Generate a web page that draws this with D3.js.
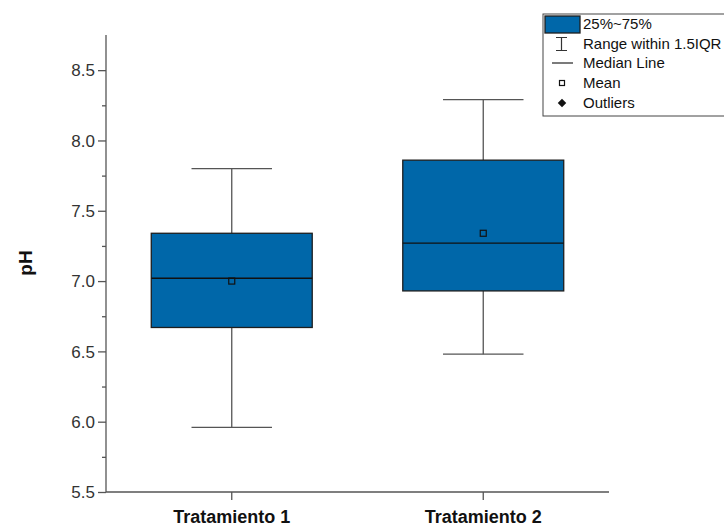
<!DOCTYPE html>
<html>
<head>
<meta charset="utf-8">
<script src="https://cdn.jsdelivr.net/npm/d3@7"></script>
<style>
  html, body { margin: 0; padding: 0; background: #fff; }
  svg { display: block; font-family: Arial, "Liberation Sans", sans-serif; }
</style>
</head>
<body>
<svg id="chart" width="724" height="527"></svg>
<script>
// pH per treatment: box-plot summary statistics
const categories = ["Tratamiento 1", "Tratamiento 2"];
const whiskerLow = [5.96, 6.48];
const q1 = [6.67, 6.93];
const median = [7.02, 7.27];
const q3 = [7.34, 7.86];
const whiskerHigh = [7.80, 8.29];
const means = [7.00, 7.34];
const yTicks = [5.5, 6.0, 6.5, 7.0, 7.5, 8.0, 8.5];
const yMinorTicks = [5.75, 6.25, 6.75, 7.25, 7.75, 8.25];
const legendLabels = ["25%~75%", "Range within 1.5IQR", "Median Line", "Mean", "Outliers"];

const boxFill = "#0067A9";
const axisColor = "#555";

const svg = d3.select("#chart");
const plotLeft = 106, plotRight = 609, plotTop = 35, plotBottom = 492;

const x = d3.scaleBand().domain(categories).range([plotLeft, plotRight]).paddingInner(0).paddingOuter(0);
const y = d3.scaleLinear().domain([5.5, 8.75]).range([plotBottom, plotTop]);

const boxW = x.bandwidth() * 0.64;
const capW = boxW / 2;

const data = categories.map((c, i) => ({
  c, lo: whiskerLow[i], q1: q1[i], med: median[i], q3: q3[i], hi: whiskerHigh[i], mean: means[i]
}));

const g = svg.append("g");
const cx = d => x(d.c) + x.bandwidth() / 2;

const box = g.selectAll("g.box").data(data).join("g").attr("class", "box");

// whisker stems
box.append("line")
  .attr("x1", cx).attr("x2", cx)
  .attr("y1", d => y(d.hi)).attr("y2", d => y(d.q3))
  .attr("stroke", axisColor).attr("stroke-width", 1.3);
box.append("line")
  .attr("x1", cx).attr("x2", cx)
  .attr("y1", d => y(d.q1)).attr("y2", d => y(d.lo))
  .attr("stroke", axisColor).attr("stroke-width", 1.3);
// whisker caps
box.append("line")
  .attr("x1", d => cx(d) - capW / 2).attr("x2", d => cx(d) + capW / 2)
  .attr("y1", d => y(d.hi)).attr("y2", d => y(d.hi))
  .attr("stroke", axisColor).attr("stroke-width", 1.3);
box.append("line")
  .attr("x1", d => cx(d) - capW / 2).attr("x2", d => cx(d) + capW / 2)
  .attr("y1", d => y(d.lo)).attr("y2", d => y(d.lo))
  .attr("stroke", axisColor).attr("stroke-width", 1.3);
// IQR box
box.append("rect")
  .attr("x", d => cx(d) - boxW / 2)
  .attr("width", boxW)
  .attr("y", d => y(d.q3))
  .attr("height", d => y(d.q1) - y(d.q3))
  .attr("fill", boxFill)
  .attr("stroke", "#1e1e1e").attr("stroke-width", 1.3);
// median
box.append("line")
  .attr("x1", d => cx(d) - boxW / 2).attr("x2", d => cx(d) + boxW / 2)
  .attr("y1", d => y(d.med)).attr("y2", d => y(d.med))
  .attr("stroke", "#111").attr("stroke-width", 1.3);
// mean marker
box.append("rect")
  .attr("x", d => cx(d) - 3).attr("y", d => y(d.mean) - 3)
  .attr("width", 6).attr("height", 6)
  .attr("fill", "none").attr("stroke", "#111").attr("stroke-width", 1.2);

// Y axis
const yAxis = d3.axisLeft(y).tickValues(yTicks).tickFormat(d3.format(".1f")).tickSize(8).tickPadding(3);
const ya = svg.append("g").attr("transform", `translate(${plotLeft},0)`).call(yAxis);
ya.select(".domain").attr("stroke", axisColor).attr("stroke-width", 1.3).attr("d", `M0,${plotTop}V${plotBottom}`);
ya.selectAll(".tick line").attr("stroke", axisColor).attr("stroke-width", 1.3);
ya.selectAll(".tick text").attr("font-size", 17).attr("fill", "#333").attr("dy", "0.34em")
  .attr("font-family", "Arial, 'Liberation Sans', sans-serif");
svg.append("g").attr("transform", `translate(${plotLeft},0)`)
  .call(d3.axisLeft(y).tickValues(yMinorTicks).tickSize(4).tickFormat(""))
  .call(s => s.select(".domain").remove())
  .selectAll(".tick line").attr("stroke", axisColor).attr("stroke-width", 1.3);

// X axis
const xAxis = d3.axisBottom(x).tickSize(8).tickPadding(10);
const xa = svg.append("g").attr("transform", `translate(0,${plotBottom})`).call(xAxis);
xa.select(".domain").attr("stroke", axisColor).attr("stroke-width", 1.3).attr("d", `M${plotLeft},0H${plotRight}`);
xa.selectAll(".tick line").attr("stroke", axisColor).attr("stroke-width", 1.3);
xa.selectAll(".tick text").attr("font-size", 18).attr("font-weight", "bold").attr("fill", "#111")
  .attr("font-family", "Arial, 'Liberation Sans', sans-serif");

// Y title
svg.append("text")
  .attr("transform", `translate(32,263) rotate(-90)`)
  .attr("text-anchor", "middle")
  .attr("font-size", 19).attr("font-weight", "bold").attr("fill", "#111")
  .text("pH");

// Legend
const lg = svg.append("g").attr("transform", "translate(543,14)");
lg.append("rect").attr("x", 0).attr("y", 0).attr("width", 200).attr("height", 102)
  .attr("fill", "#fff").attr("stroke", "#444").attr("stroke-width", 1);
const rowY = [10, 30, 49, 69, 89];
lg.selectAll("text.lab").data(legendLabels).join("text").attr("class", "lab")
  .attr("x", 40).attr("y", (d, i) => rowY[i]).attr("dy", "0.35em")
  .attr("font-size", 15).attr("fill", "#111").text(d => d);
// swatch
lg.append("rect").attr("x", 2).attr("y", 2).attr("width", 35).attr("height", 17)
  .attr("fill", boxFill).attr("stroke", "#1e1e1e").attr("stroke-width", 1.3);
// range glyph
const ry = rowY[1];
lg.append("path").attr("d", `M18.5,${ry - 6.5}V${ry + 6.5}M13,${ry - 6.5}H24M13,${ry + 6.5}H24`)
  .attr("fill", "none").attr("stroke", "#333").attr("stroke-width", 1.2);
// median glyph
lg.append("line").attr("x1", 9).attr("x2", 30).attr("y1", rowY[2]).attr("y2", rowY[2])
  .attr("stroke", "#222").attr("stroke-width", 1.2);
// mean glyph
lg.append("rect").attr("x", 16.5).attr("y", rowY[3] - 2.5).attr("width", 5).attr("height", 5)
  .attr("fill", "none").attr("stroke", "#111").attr("stroke-width", 1.2);
// outlier glyph
lg.append("rect").attr("x", -3).attr("y", -3).attr("width", 6).attr("height", 6)
  .attr("transform", `translate(19,${rowY[4]}) rotate(45)`)
  .attr("fill", "#111");
</script>
</body>
</html>
